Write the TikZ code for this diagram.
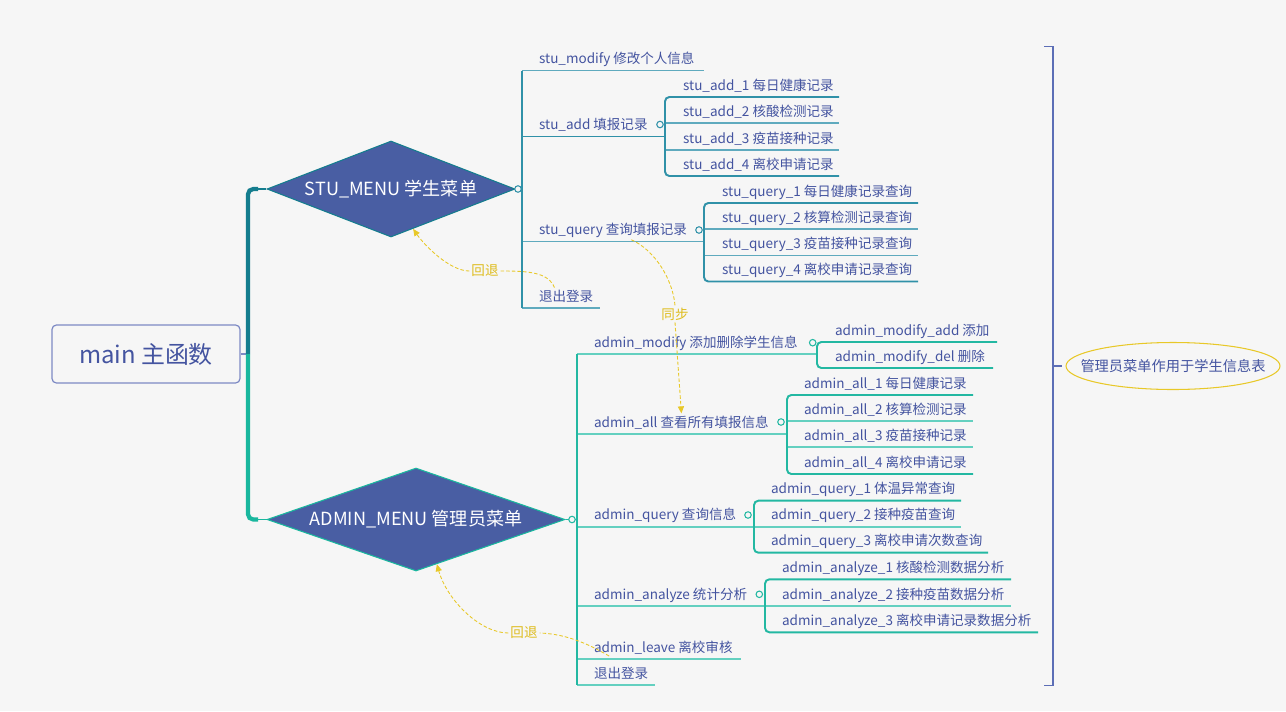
\documentclass[tikz,border=0pt]{standalone}
\usepackage{fontspec}
\setmainfont{Noto Sans CJK SC}
\usetikzlibrary{calc,shapes.geometric,arrows.meta}

\definecolor{bgcol}{RGB}{246,246,246}
\definecolor{txtcol}{RGB}{68,84,160}
\definecolor{menucol}{RGB}{73,94,163}
\definecolor{trunkup}{RGB}{20,125,142}
\definecolor{trunklow}{RGB}{25,183,158}
\definecolor{stuline}{RGB}{48,145,168}
\definecolor{stulight}{RGB}{95,170,190}
\definecolor{admline}{RGB}{35,184,162}
\definecolor{admlight}{RGB}{100,208,192}
\definecolor{yel}{RGB}{232,200,40}
\definecolor{ylab}{RGB}{222,188,28}
\definecolor{brkcol}{RGB}{92,110,182}
\definecolor{mainbrd}{RGB}{125,138,196}

% name, line style, x left, x text, y of underline, x right, text
\newcommand{\topic}[7]{%
  \coordinate (#1-l) at (#3,#5);
  \coordinate (#1-r) at (#6,#5);
  \node[lbl, anchor=base west] (#1) at (#4,#5-7) {#7};
  \draw[#2] (#1-l) -- (#1-r);
}

\tikzset{
  lbl/.style={font=\fontsize{7.7}{9}\selectfont, text=txtcol, inner sep=1pt},
  mainbox/.style={draw=mainbrd, line width=0.7pt, rounded corners=2.5pt, minimum width=3.76cm, minimum height=1.16cm, text=txtcol, font=\fontsize{13.6}{15}\selectfont},
  menu/.style={diamond, fill=menucol, line width=0.6pt, inner sep=0pt, text=white, font=\fontsize{10.3}{12}\selectfont},
  fold/.style={circle, fill=bgcol, line width=0.6pt, minimum size=0.13cm, inner sep=0pt},
  noline/.style={draw=none},
  stusub/.style={stulight, line width=1.1pt},
  stubrk/.style={stuline, line width=1.1pt},
  admsub/.style={admlight, line width=1.1pt},
  admbrk/.style={admline, line width=1.1pt},
  brk/.style={brkcol, line width=1.1pt},
  sync/.style={yel, line width=0.5pt, dash pattern=on 2pt off 1.2pt},
  synctip/.style={sync, -{Triangle[length=4pt,width=3.5pt]}},
  ylbl/.style={font=\fontsize{7.7}{9}\selectfont, text=ylab, inner sep=1pt},
  notetxt/.style={font=\fontsize{8.1}{10}\selectfont, text=txtcol, inner sep=0pt}
}

\begin{document}
\begin{tikzpicture}[x=0.02cm, y=-0.02cm]
  \fill[bgcol] (0,0) rectangle (1286,711);
  \useasboundingbox (0,0) rectangle (1286,711);

  %%%%% main and the two menus %%%%%
  \node[mainbox] (main) at (146,354) {main 主函数};
  \node[menu, draw=trunkup, aspect=2.58, minimum width=4.96cm, minimum height=1.92cm] (stu) at (391,189) {STU\_MENU 学生菜单};
  \node[menu, draw=trunklow, aspect=2.9, minimum width=5.96cm, minimum height=2.06cm] (adm) at (416,519.5) {ADMIN\_MENU 管理员菜单};

  \coordinate (tj) at (248,354);
  \coordinate (tu) at (258,189);
  \coordinate (tl) at (258,519.5);
  \draw[mainbrd, line width=0.8pt] (main.east) -- (tj);
  \draw[trunkup, line width=2.4pt, rounded corners=3pt] (tj) |- (tu);
  \draw[trunkup, line width=0.8pt] (tu) -- (stu.west);
  \draw[trunklow, line width=2.4pt, rounded corners=3pt] (tj) |- (tl);
  \draw[trunklow, line width=0.8pt] (tl) -- (adm.west);

  %%%%% student menu %%%%%
  \coordinate (sj) at (522,189);
  \draw[stubrk] (stu.east) -- (sj);
  \node[fold, draw=stuline] (sf) at (518,189) {};

  \topic{smod}{stusub}{522}{537}{70.5}{704}{stu\_modify 修改个人信息}
  \topic{sadd}{stubrk}{522}{537}{136.5}{665}{stu\_add 填报记录}
  \topic{sque}{stusub}{522}{537}{241.5}{704}{stu\_query 查询填报记录}
  \topic{squit}{stusub}{522}{537}{308}{600}{退出登录}
  \draw[stubrk] (smod-l) -- (squit-l);

  \topic{sa1}{noline}{665}{681}{97}{839}{stu\_add\_1 每日健康记录}
  \topic{sa2}{stusub}{665}{681}{123.3}{839}{stu\_add\_2 核酸检测记录}
  \topic{sa3}{stusub}{665}{681}{150}{839}{stu\_add\_3 疫苗接种记录}
  \topic{sa4}{noline}{665}{681}{176}{839}{stu\_add\_4 离校申请记录}
  \draw[stubrk, rounded corners=2.5pt] (sa1-r) -- (sa1-l) -- (sa4-l) -- (sa4-r);
  \node[fold, draw=stuline] (saf) at (660,124.5) {};

  \topic{sq1}{noline}{704}{720}{203}{918}{stu\_query\_1 每日健康记录查询}
  \topic{sq2}{stusub}{704}{720}{229.3}{918}{stu\_query\_2 核算检测记录查询}
  \topic{sq3}{stusub}{704}{720}{255.5}{918}{stu\_query\_3 疫苗接种记录查询}
  \topic{sq4}{noline}{704}{720}{281.5}{918}{stu\_query\_4 离校申请记录查询}
  \draw[stubrk, rounded corners=2.5pt] (sq1-r) -- (sq1-l) -- (sq4-l) -- (sq4-r);
  \node[fold, draw=stuline] (sqf) at (699,230) {};

  %%%%% admin menu %%%%%
  \coordinate (aj) at (577,519.5);
  \draw[admbrk] (adm.east) -- (aj);
  \node[fold, draw=admline] (af) at (572,519.5) {};

  \topic{amod}{admsub}{577}{592}{354.3}{817}{admin\_modify 添加删除学生信息}
  \topic{aall}{admsub}{577}{592}{434}{787}{admin\_all 查看所有填报信息}
  \topic{aque}{admsub}{577}{592}{526.7}{754}{admin\_query 查询信息}
  \topic{aana}{admsub}{577}{592}{606}{765}{admin\_analyze 统计分析}
  \topic{alea}{admsub}{577}{592}{659}{741}{admin\_leave 离校审核}
  \topic{aquit}{admsub}{577}{592}{685}{655}{退出登录}
  \draw[admbrk] (amod-l) -- (aquit-l);

  \topic{am1}{noline}{817}{833}{342}{997}{admin\_modify\_add 添加}
  \topic{am2}{noline}{817}{833}{368}{993}{admin\_modify\_del 删除}
  \draw[admbrk, rounded corners=2.5pt] (am1-r) -- (am1-l) -- (am2-l) -- (am2-r);
  \node[fold, draw=admline] (amf) at (812.7,342.7) {};

  \topic{al1}{noline}{787}{802}{395}{973}{admin\_all\_1 每日健康记录}
  \topic{al2}{admsub}{787}{802}{421}{973}{admin\_all\_2 核算检测记录}
  \topic{al3}{admsub}{787}{802}{447}{973}{admin\_all\_3 疫苗接种记录}
  \topic{al4}{noline}{787}{802}{474}{973}{admin\_all\_4 离校申请记录}
  \draw[admbrk, rounded corners=2.5pt] (al1-r) -- (al1-l) -- (al4-l) -- (al4-r);
  \node[fold, draw=admline] (alf) at (781,422) {};

  \topic{aq1}{noline}{754}{769}{500.7}{961}{admin\_query\_1 体温异常查询}
  \topic{aq2}{admsub}{754}{769}{526.7}{961}{admin\_query\_2 接种疫苗查询}
  \topic{aq3}{noline}{754}{769}{552.7}{988}{admin\_query\_3 离校申请次数查询}
  \draw[admbrk, rounded corners=2.5pt] (aq1-r) -- (aq1-l) -- (aq3-l) -- (aq3-r);
  \node[fold, draw=admline] (aqf) at (748,515) {};

  \topic{an1}{noline}{765}{780}{579.3}{1011}{admin\_analyze\_1 核酸检测数据分析}
  \topic{an2}{admsub}{765}{780}{606}{1011}{admin\_analyze\_2 接种疫苗数据分析}
  \topic{an3}{noline}{765}{780}{632.3}{1038}{admin\_analyze\_3 离校申请记录数据分析}
  \draw[admbrk, rounded corners=2.5pt] (an1-r) -- (an1-l) -- (an3-l) -- (an3-r);
  \node[fold, draw=admline] (anf) at (759.3,594.3) {};

  %%%%% back / sync links %%%%%
  \node[ylbl] (hb1) at (485,271) {回退};
  \draw[sync] ($(squit.north west)!0.3!(squit.north east)$) .. controls (548,272) and (528,271) .. (hb1.east);
  \draw[synctip] (hb1.west) .. controls (450,271) and (425,246) .. (stu.-61);

  \node[ylbl] (hs) at (675,314) {同步};
  \draw[sync] ($(sque.south west)!0.62!(sque.south east)$) .. controls (655,250) and (673,280) .. (hs.north);
  \draw[synctip] (hs.south) -- (aall.north);

  \node[ylbl] (hb2) at (524,633) {回退};
  \draw[sync] ($(alea.south west)!0.12!(alea.south east)$) .. controls (590,645) and (568,634) .. (hb2.east);
  \draw[synctip] (hb2.west) .. controls (480,633) and (447,600) .. (adm.-65);

  %%%%% summary bracket %%%%%
  \coordinate (bt) at (1053,46.5);
  \coordinate (bb) at (1053,685.5);
  \coordinate (bm) at (1053,366);
  \draw[brk] ($(bt)+(-9,0)$) -- (bt) -- (bb) -- ($(bb)+(-9,0)$);
  \draw[brk] (bm) -- ++(9,0);
  \node[notetxt] (note) at (1173,366) {管理员菜单作用于学生信息表};
  \draw[yel, line width=0.6pt] (note.center) ellipse [x radius=107, y radius=23.5];
\end{tikzpicture}
\end{document}
